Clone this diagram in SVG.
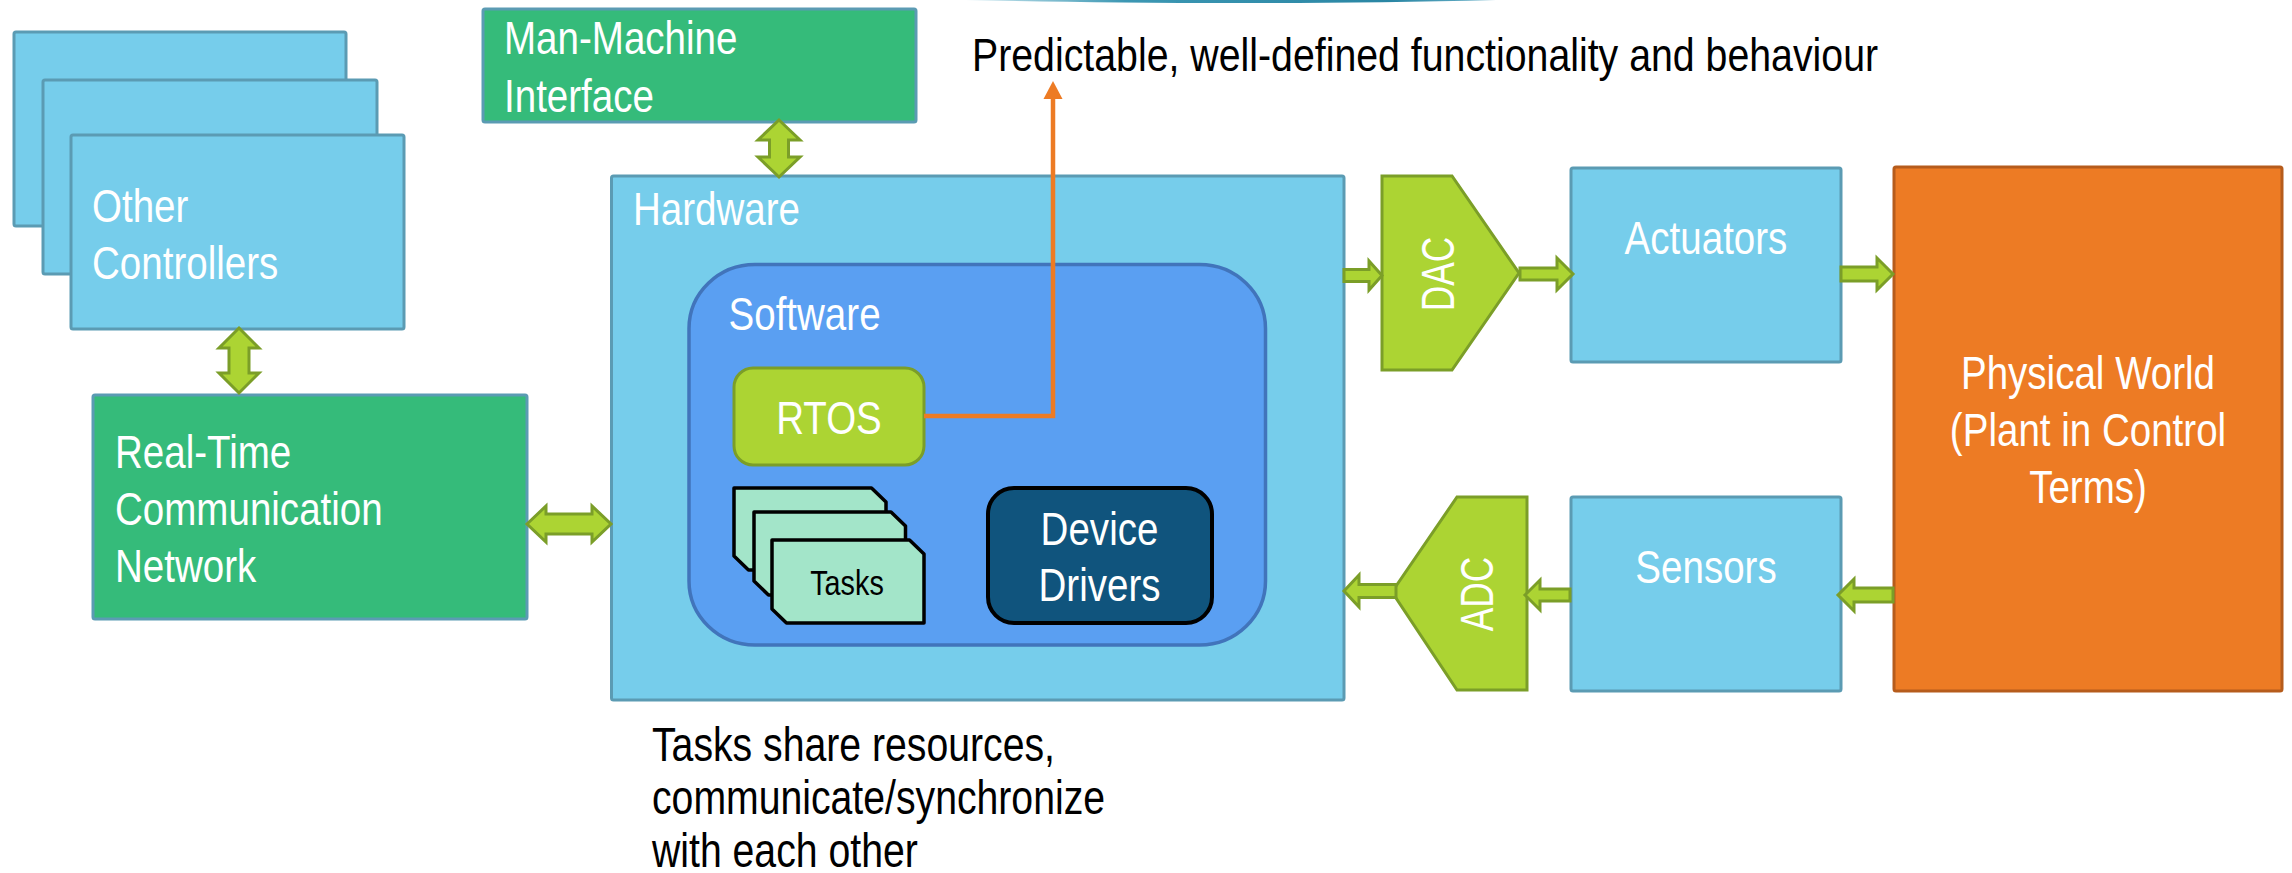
<svg xmlns="http://www.w3.org/2000/svg" width="2292" height="873" viewBox="0 0 2292 873">
<defs>
<linearGradient id="deco" x1="0" y1="0" x2="1" y2="0">
<stop offset="0" stop-color="#cfe9f1"/>
<stop offset="0.3" stop-color="#3c97b3"/>
<stop offset="0.8" stop-color="#2a86a4"/>
<stop offset="1" stop-color="#6fb4cb"/>
</linearGradient>
<style>
.box{fill:#76cdeb;stroke:#5b9bb3;stroke-width:3}
.gbox{fill:#35bb7a;stroke:#5b9bb3;stroke-width:3}
.sw{fill:#5a9ff2;stroke:#4174bb;stroke-width:3.5}
.lime{fill:#acd433;stroke:#7b9e28;stroke-width:3}
.task{fill:#a3e5c9;stroke:#000;stroke-width:3.5;stroke-linejoin:round}
.dd{fill:#10547d;stroke:#000;stroke-width:4}
.phys{fill:#ed7b24;stroke:#b65c1c;stroke-width:3}
.arr{fill:#acd433;stroke:#7b9e28;stroke-width:3;stroke-linejoin:miter}
.wt{fill:#fff;font-family:"Liberation Sans",Arial,sans-serif;font-size:47px}
.bt{fill:#000;font-family:"Liberation Sans",Arial,sans-serif}
.mid{text-anchor:middle}
</style>
</defs>
<rect x="0" y="0" width="2292" height="873" fill="#fff"/>
<path d="M966,0 C1100,3 1300,5 1496,0 Z" fill="url(#deco)"/>

<g id="other-controllers">
<rect class="box" x="14" y="32" width="332" height="194" rx="2"/>
<rect class="box" x="43" y="80" width="334" height="194" rx="2"/>
<rect class="box" x="71" y="135" width="333" height="194" rx="2"/>
<text class="wt" transform="matrix(0.82 0 0 1 92 222)"><tspan x="0" y="0">Other</tspan><tspan x="0" y="57">Controllers</tspan></text>
</g>

<g id="rt-network">
<rect class="gbox" x="93" y="395" width="434" height="224" rx="2"/>
<text class="wt" transform="matrix(0.82 0 0 1 115 468)"><tspan x="0" y="0">Real-Time</tspan><tspan x="0" y="57.5">Communication</tspan><tspan x="0" y="114.5">Network</tspan></text>
</g>

<g id="mmi">
<rect class="gbox" x="483" y="9" width="433" height="113" rx="2"/>
<text class="wt" transform="matrix(0.82 0 0 1 504 54)"><tspan x="0" y="0">Man-Machine</tspan><tspan x="0" y="58.5">Interface</tspan></text>
</g>

<g id="hardware">
<rect class="box" x="611.5" y="176" width="732.5" height="524" rx="2"/>
<text class="wt" transform="matrix(0.82 0 0 1 633 224.5)">Hardware</text>
</g>

<g id="software">
<rect class="sw" x="689" y="264.5" width="576.5" height="380.5" rx="66" ry="64"/>
<text class="wt" transform="matrix(0.82 0 0 1 728.5 329.5)">Software</text>
</g>

<g id="rtos">
<rect class="lime" x="734" y="368" width="190" height="97" rx="19"/>
<text class="wt mid" transform="matrix(0.82 0 0 1 829 434)">RTOS</text>
</g>

<g id="tasks">
<path class="task" d="M734,488 H871.5 L886,502 V570 H748.5 L734,556 Z"/>
<path class="task" d="M754,512 H891 L905.5,526 V595 H768.5 L754,581 Z"/>
<path class="task" d="M772,540 H909.5 L924,554 V623 H786.5 L772,609 Z"/>
<text class="bt mid" font-size="36" transform="matrix(0.8 0 0 1 847 595)">Tasks</text>
</g>

<g id="device-drivers">
<rect class="dd" x="988" y="488" width="224" height="135" rx="26"/>
<text class="wt mid" transform="matrix(0.82 0 0 1 1099.5 544.5)"><tspan x="0" y="0">Device</tspan><tspan x="0" y="56.5">Drivers</tspan></text>
</g>

<g id="dac">
<path class="lime" d="M1382,176 H1452 L1519,273 L1452,370 H1382 Z"/>
<text class="wt mid" font-size="50" transform="translate(1454 274) rotate(-90) scale(0.75 1)">DAC</text>
</g>

<g id="adc">
<path class="lime" d="M1457,497 H1527 V690 H1457 L1392,592 Z"/>
<text class="wt mid" font-size="50" transform="translate(1493 594) rotate(-90) scale(0.75 1)">ADC</text>
</g>

<g id="actuators">
<rect class="box" x="1571" y="168" width="270" height="194" rx="2"/>
<text class="wt mid" transform="matrix(0.82 0 0 1 1706 254)">Actuators</text>
</g>

<g id="sensors">
<rect class="box" x="1571" y="497" width="270" height="194" rx="2"/>
<text class="wt mid" transform="matrix(0.82 0 0 1 1706 583)">Sensors</text>
</g>

<g id="physical-world">
<rect class="phys" x="1894" y="167" width="388" height="524" rx="2"/>
<text class="wt mid" transform="matrix(0.82 0 0 1 2088 389)"><tspan x="0" y="0">Physical World</tspan><tspan x="0" y="57">(Plant in Control</tspan><tspan x="0" y="114.5">Terms)</tspan></text>
</g>

<g id="annotations">
<text class="bt" font-size="46" transform="matrix(0.854 0 0 1 972 70.7)">Predictable, well-defined functionality and behaviour</text>
<text class="bt" font-size="49" transform="matrix(0.8 0 0 1 652 761)"><tspan x="0" y="0">Tasks share resources,</tspan><tspan x="0" y="53">communicate/synchronize</tspan><tspan x="0" y="106">with each other</tspan></text>
</g>

<g id="connectors">
<path class="arr" d="M239,328 L259,348 H249 V373 H259 L239,393 L219,373 H229 V348 H219 Z"/>
<path class="arr" d="M779,120 L800,140 H788.5 V157 H800 L779,177 L758,157 H769.5 V140 H758 Z"/>
<path class="arr" d="M527,524 L546,506 V514 H592 V506 L611,524 L592,542 V534 H546 V542 Z"/>
<path class="arr" d="M1344,269.5 H1369 V261 L1382,275.5 L1369,290 V281.5 H1344 Z"/>
<path class="arr" d="M1520,268 H1557 V258 L1573,274 L1557,290 V280 H1520 Z"/>
<path class="arr" d="M1841,267 H1877 V258 L1893,274 L1877,290 V281 H1841 Z"/>
<path class="arr" d="M1893,588 H1854 V579 L1838,595 L1854,611 V602 H1893 Z"/>
<path class="arr" d="M1570,589 H1540 V580 L1525,595 L1540,610 V601 H1570 Z"/>
<path class="arr" d="M1396,584.5 H1359 V575 L1344,591 L1359,607 V597.5 H1396 Z"/>
<path d="M924,416 H1053 V97" fill="none" stroke="#ed7b24" stroke-width="4.5"/>
<path d="M1053,81 L1062.5,99 H1043.5 Z" fill="#ed7b24"/>
</g>
</svg>
